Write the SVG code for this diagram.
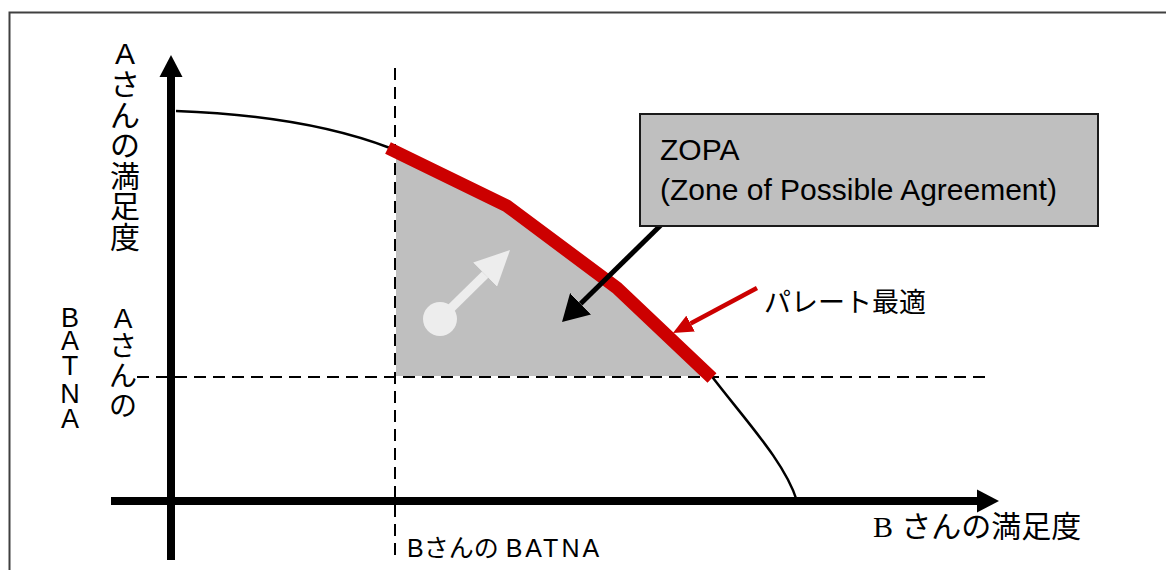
<svg xmlns="http://www.w3.org/2000/svg" width="1166" height="570" viewBox="0 0 1166 570">
<style>
  .sans { font-family: "Liberation Sans", "Noto Sans CJK JP", sans-serif; fill: #000; }
  .serif { font-family: "Liberation Serif", serif; fill: #000; }
  .dash { stroke: #000; stroke-width: 2; stroke-dasharray: 12 7; fill: none; }
  .curve { stroke: #000; stroke-width: 2.5; fill: none; }
  .axis { stroke: #000; stroke-width: 8; fill: none; }
</style>
<defs>
  <marker id="axisHead" markerUnits="userSpaceOnUse" viewBox="0 -12 22 24" refX="0" refY="0" markerWidth="22" markerHeight="24" orient="auto">
    <path d="M0,-11.5 L22,0 L0,11.5 Z" fill="#000"/>
  </marker>
  <marker id="blackHead" markerUnits="userSpaceOnUse" viewBox="0 -15 26 30" refX="0" refY="0" markerWidth="26" markerHeight="30" orient="auto">
    <path d="M0,-15 L26,0 L0,15 Z" fill="#000"/>
  </marker>
  <marker id="redHead" markerUnits="userSpaceOnUse" viewBox="0 -9 20 18" refX="0" refY="0" markerWidth="20" markerHeight="18" orient="auto">
    <path d="M0,-9 L20,0 L0,9 Z" fill="#cc0000"/>
  </marker>
  <marker id="lightHead" markerUnits="userSpaceOnUse" viewBox="0 -17 35 34" refX="0" refY="0" markerWidth="35" markerHeight="34" orient="auto">
    <path d="M0,-17 L35,0 L0,17 Z" fill="#ededed"/>
  </marker>
</defs>

<rect x="9.5" y="12.5" width="1200" height="600" fill="#fff" stroke="#404040" stroke-width="2"/>

<g id="zopa-area">
  <path d="M396,152 L507,206 L617,288 L702,376 L396,376 Z" fill="#bfbfbf"/>
</g>

<g id="guides">
  <line class="dash" x1="395" y1="68" x2="395" y2="560"/>
  <line class="dash" x1="137" y1="377" x2="988" y2="377"/>
</g>

<g id="frontier">
  <path class="curve" d="M176,111 C260,114 330,125 390,148"/>
  <path class="curve" d="M710,374 C745,420 785,462 797,501"/>
  <path d="M388,148 L507,206 L617,288 L712,378" fill="none" stroke="#cc0000" stroke-width="13" stroke-linejoin="miter"/>
</g>

<g id="axes">
  <line class="axis" x1="171" y1="560" x2="171" y2="77" marker-end="url(#axisHead)"/>
  <line class="axis" x1="111" y1="501" x2="977" y2="501" marker-end="url(#axisHead)"/>
</g>

<g id="connectors">
  <line x1="663" y1="223" x2="580.6" y2="303.8" stroke="#000" stroke-width="5" marker-end="url(#blackHead)"/>
  <line x1="757" y1="288" x2="690.6" y2="323.6" stroke="#cc0000" stroke-width="4.5" marker-end="url(#redHead)"/>
  <circle cx="440" cy="319" r="17" fill="#ededed"/>
  <line x1="440" y1="319" x2="485.1" y2="274.6" stroke="#ededed" stroke-width="9" marker-end="url(#lightHead)"/>
</g>

<g id="zopa-box">
  <rect x="640" y="114" width="458" height="112" fill="#bfbfbf" stroke="#1a1a1a" stroke-width="2"/>
  <text class="sans" x="660" y="160" font-size="30">ZOPA</text>
  <text class="sans" x="660" y="200" font-size="30">(Zone of Possible Agreement)</text>
</g>

<g id="pareto-label">
  <text class="sans" x="764" y="312" font-size="27">パレート最適</text>
</g>

<g id="y-axis-label">
  <text class="sans" x="125 125 125 125 125 125 125" y="64 95 125.6 156.2 186.8 217.4 248" font-size="30" text-anchor="middle">Aさんの満足度</text>
</g>

<g id="a-batna-label">
  <text class="sans" x="70 70 70 70 70" y="327 350 375 403 428" font-size="27" text-anchor="middle">BATNA</text>
  <text class="sans" x="123 123 123 123" y="328 356 386 416" font-size="28" text-anchor="middle">Aさんの</text>
</g>

<g id="x-axis-label">
  <text x="873" y="537" font-size="30"><tspan class="serif" font-size="30">B</tspan><tspan class="sans"> さんの満足度</tspan></text>
</g>

<g id="b-batna-label">
  <text class="sans" x="407" y="557" font-size="25">Bさんの <tspan letter-spacing="3">BATNA</tspan></text>
</g>
</svg>
